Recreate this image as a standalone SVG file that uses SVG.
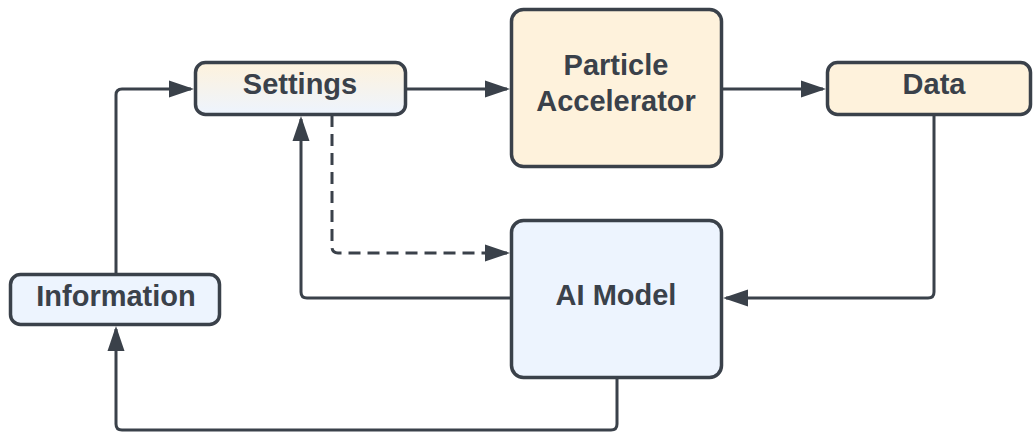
<svg xmlns="http://www.w3.org/2000/svg" width="1034" height="433" viewBox="0 0 1034 433">
  <style>
    .box { stroke: #3a414a; stroke-width: 3.5; }
    .warm { fill: #fef2dc; }
    .cool { fill: #edf4fe; }
    .label { font-family: "Liberation Sans", Arial, sans-serif; font-weight: bold; font-size: 29px; fill: #3a414a; text-anchor: middle; }
    .wire { fill: none; stroke: #3a414a; stroke-width: 3; marker-end: url(#arrow); }
    .dashed { stroke-dasharray: 12 7; }
  </style>
  <defs>
    <linearGradient id="settingsFill" x1="0" y1="0" x2="0" y2="1">
      <stop offset="0" stop-color="#fef2dc"/>
      <stop offset="1" stop-color="#edf4fe"/>
    </linearGradient>
    <marker id="arrow" markerUnits="userSpaceOnUse" markerWidth="26" markerHeight="18" viewBox="0 0 26 18" refX="22" refY="9" orient="auto">
      <path d="M0,0.5 L25,9 L0,17.5 z" fill="#3a414a"/>
    </marker>
  </defs>

  <rect width="1034" height="433" fill="#ffffff"/>

  <g id="connectors">
    <path class="wire" d="M116,273 V95 Q116,89 122,89 H191"/>
    <path class="wire" d="M407,89 H507"/>
    <path class="wire" d="M723,89 H823"/>
    <path class="wire" d="M934,115 V292 Q934,298 928,298 H726"/>
    <path class="wire" d="M510,298 H307 Q301,298 301,292 V119"/>
    <path class="wire dashed" d="M332,115 V247 Q332,253 338,253 H507"/>
    <path class="wire" d="M617,379 V424 Q617,430 611,430 H122 Q116,430 116,424 V329"/>
  </g>

  <g id="settings">
    <rect class="box" x="195.5" y="62.5" width="210" height="52" rx="10" fill="url(#settingsFill)"/>
    <text class="label" x="300" y="94">Settings</text>
  </g>

  <g id="particle-accelerator">
    <rect class="box warm" x="511.5" y="9.5" width="210" height="157" rx="12"/>
    <text class="label" x="616" y="75">Particle</text>
    <text class="label" x="616" y="111">Accelerator</text>
  </g>

  <g id="data">
    <rect class="box warm" x="827.5" y="62.5" width="203" height="52" rx="10"/>
    <text class="label" x="934" y="94">Data</text>
  </g>

  <g id="information">
    <rect class="box cool" x="10.5" y="274.5" width="209" height="50" rx="10"/>
    <text class="label" x="116" y="306">Information</text>
  </g>

  <g id="ai-model">
    <rect class="box cool" x="511.5" y="220.5" width="210" height="157" rx="12"/>
    <text class="label" x="616" y="305">AI Model</text>
  </g>
</svg>
